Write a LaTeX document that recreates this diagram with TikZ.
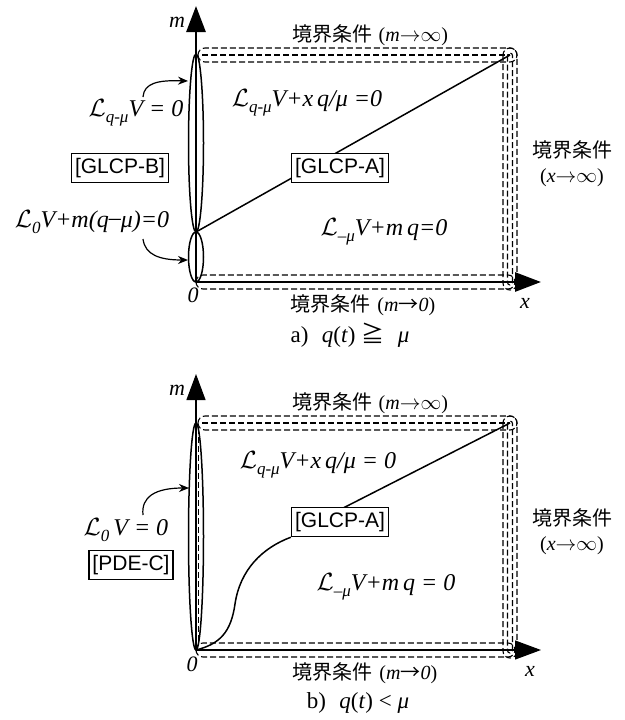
\documentclass[tikz,border=0pt]{standalone}
\usepackage{fontspec}
\setmainfont{Liberation Serif}
\newfontfamily\cjk{Noto Sans CJK JP}
\newfontfamily\sansf{Liberation Sans}
\usetikzlibrary{arrows.meta}
\newcommand\Lsub[1]{$\mathcal{L}$\raisebox{-5.5pt}{\fontsize{17}{17}\selectfont\itshape #1}}
\newcommand\toinf{$\mathord{\rightarrow}\mathord{\infty}$}
\begin{document}
\begin{tikzpicture}[x=1pt,y=-1pt,
  axisarrow/.style={-{Triangle[length=26pt,width=19pt]}},
  thickaxis/.style={line width=2.8pt},
  thinaxis/.style={line width=1.2pt},
  solidloop/.style={line width=1.5pt},
  dashloop/.style={line width=1.1pt,dash pattern=on 6pt off 3pt},
  diag/.style={line width=1.5pt},
  carrow/.style={line width=1.2pt,-{Stealth[length=10pt,width=8pt]}},
  eq/.style={font=\fontsize{24}{28}\selectfont\itshape,inner sep=0pt},
  lab/.style={font=\fontsize{22}{26}\selectfont\itshape,inner sep=0pt},
  jp/.style={font=\fontsize{20}{25}\selectfont,inner sep=0pt,align=center},
  captext/.style={font=\fontsize{23}{27}\selectfont,inner sep=0pt},
  boxnode/.style={draw,line width=1.4pt,fill=white,font=\sansf\fontsize{21}{25}\selectfont,minimum height=29pt,inner xsep=3.5pt,inner ysep=0pt}
]
\useasboundingbox (0,0) rectangle (624,720);

% ================= Panel a =================
\coordinate (Oa) at (196,282);
\coordinate (Ma) at (196,6);
\coordinate (Xa) at (541,282);
\coordinate (Ja) at (196,232);
\coordinate (Ca) at (510,55);

\draw[dashloop,rounded corners=7pt] (198,48) rectangle (517,62);
\draw[dashloop] (202,55) -- (Ca);
\draw[dashloop,rounded corners=7pt] (503,48) rectangle (517,290);
\draw[dashloop,rounded corners=2.5pt] (507.5,53) rectangle (512.5,285);
\draw[dashloop,rounded corners=7pt] (196,275) rectangle (515,289);

\draw[solidloop] (196,143) ellipse [x radius=7.5pt, y radius=89pt];
\draw[solidloop] (196,257) ellipse [x radius=7.5pt, y radius=25pt];

\draw[thickaxis,axisarrow] (Oa) -- (Ma);
\draw[thickaxis,axisarrow] (Oa) -- (Xa);

\draw[diag] (Ja) -- (Ca);

\node[boxnode] (gBa) at (120,168) {[GLCP-B]};
\node[boxnode] (gAa) at (340,168) {[GLCP-A]};

\node[lab] (ma) at (177,22) {m};
\node[lab] (xa) at (525,303) {x};
\node[lab] (za) at (193,295) {0};
\node[eq] (e1a) at (307,103) {\Lsub{q-μ}V+x\,q/μ =0};
\node[eq] (e2a) at (384,232) {\Lsub{–μ}V+m\,q=0};
\node[eq] (e3a) at (136,113) {\Lsub{q-μ}V = 0};
\node[eq] (e4a) at (92,222) {\Lsub{0}V+m(q\raisebox{2pt}{–}μ)=0};
\node[jp] (ta) at (370,35) {{\cjk 境界条件}\,\,(\textit{m}\toinf)};
\node[jp] (ra) at (572,164) {{\cjk 境界条件}\\(\textit{x}\toinf)};
\node[jp] (ba) at (363,305) {{\cjk 境界条件}\,\,(\textit{m}{\cjk →}\textit{0})};
\node[captext] (capa) at (350,335) {a)\,\, \textit{q}(\textit{t}) {\cjk ≧}\,\, \textit{μ}};

\coordinate (a1s) at (143,97);
\coordinate (a1e) at (188,81);
\draw[carrow] (a1s) .. controls (144,83) and (158,80) .. (a1e);
\coordinate (a2s) at (143,239);
\coordinate (a2e) at (188,260);
\draw[carrow] (a2s) .. controls (145,255) and (160,260) .. (a2e);

% ================= Panel b =================
\coordinate (Ob) at (196,650);
\coordinate (Mb) at (196,374);
\coordinate (Xb) at (541,650);
\coordinate (Cb) at (510,423);
\coordinate (Pb) at (300,530);

\draw[dashloop,rounded corners=7pt] (198,416) rectangle (517,430);
\draw[dashloop] (202,423) -- (Cb);
\draw[dashloop,rounded corners=7pt] (503,416) rectangle (517,658);
\draw[dashloop,rounded corners=2.5pt] (507.5,421) rectangle (512.5,653);
\draw[dashloop,rounded corners=7pt] (196,643) rectangle (515,657);

\draw[solidloop] (196,536.5) ellipse [x radius=7.5pt, y radius=113.5pt];
\draw[dashloop,line width=0.8pt] (198.8,428) -- (198.8,645);

\draw[thinaxis,axisarrow] (Ob) -- (Mb);
\draw[thinaxis,axisarrow] (Ob) -- (Xb);

\draw[diag] (Pb) -- (Cb);
\node[boxnode] (gAb) at (340,522) {[GLCP-A]};
\node[boxnode] (pCb) at (131,565) {[PDE-C]};
\draw[diag] (Ob) .. controls (220,644) and (231,632) .. (235,604)
  .. controls (240,570) and (262,548) .. (gAb.south west);

\node[lab] (mb) at (177,390) {m};
\node[lab] (xb) at (530,671) {x};
\node[lab] (zb) at (192,664) {0};
\node[eq] (e1b) at (318,465) {\Lsub{q-μ}V+x\,q/μ = 0};
\node[eq] (e2b) at (386,587) {\Lsub{–μ}V+m\,q = 0};
\node[eq] (e3b) at (126,530) {\Lsub{0}\,V = 0};
\node[jp] (tb) at (370,403) {{\cjk 境界条件}\,\,(\textit{m}\toinf)};
\node[jp] (rb) at (572,532) {{\cjk 境界条件}\\(\textit{x}\toinf)};
\node[jp] (bb) at (365,673) {{\cjk 境界条件}\,\,(\textit{m}{\cjk →}\textit{0})};
\node[captext] (capb) at (358,703) {b)\,\, \textit{q}(\textit{t}) < \textit{μ}};

\coordinate (b1s) at (143,515);
\coordinate (b1e) at (189,488);
\draw[carrow] (b1s) .. controls (141,497) and (155,488) .. (b1e);
\end{tikzpicture}
\end{document}
